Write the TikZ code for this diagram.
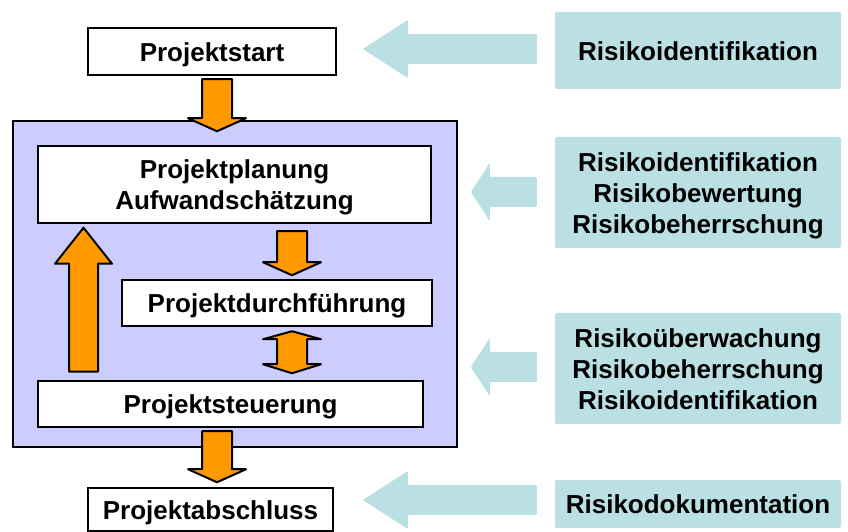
\documentclass[tikz,border=0pt]{standalone}
\usepackage{fontspec}
\setmainfont{Liberation Sans}
\usepackage{tikz}

\definecolor{phasefill}{HTML}{CCCCFF}
\definecolor{riskfill}{HTML}{BBE0E3}
\definecolor{flowfill}{HTML}{FF9900}

% text set a little below the box centre
\newcommand{\boxtext}[1]{\raisebox{-3.5pt}[\height][\depth]{\begin{tabular}{@{}c@{}}#1\end{tabular}}}
% fat arrows: start of shaft, shaft length (and head length)
\newcommand{\flowdown}[2]{%
    \draw[flowarrow] #1 ++(-15,0) -- ++(0,-#2) -- ++(-14,0) -- ++(29,-13) -- ++(29,13) -- ++(-14,0) -- ++(0,#2) -- cycle;}
\newcommand{\riskleft}[3]{%
    \fill[riskarrow] #1 ++(0,15) -- ++(-#2,0) -- ++(0,14) -- ++(-#3,-29) -- ++(#3,-29) -- ++(0,14) -- ++(#2,0) -- cycle;}

\begin{document}
\begin{tikzpicture}[x=1pt,y=1pt,
        font=\fontsize{26}{31}\selectfont\bfseries,
        every node/.style={inner sep=0pt},
        box/.style={draw,line width=2.5pt,fill=white},
        risk/.style={fill=riskfill,rounded corners=2pt,minimum width=286pt},
        flowarrow/.style={draw,line width=2pt,fill=flowfill,line join=round},
        riskarrow/.style={fill=riskfill,rounded corners=1pt}]

    \useasboundingbox (0,0) rectangle (848,532);

    \node[box,minimum width=248pt,minimum height=47pt] (start) at (212,480.5) {\boxtext{Projektstart}};
    \node[box,fill=phasefill,minimum width=444pt,minimum height=326pt] (phase) at (235,248) {};
    \node[box,minimum width=393pt,minimum height=77pt] (plan) at (234.5,347.5) {\boxtext{Projektplanung\\Aufwandschätzung}};
    \node[box,minimum width=310pt,minimum height=46pt] (exec) at (277,229) {\boxtext{Projektdurchführung}};
    \node[box,minimum width=385pt,minimum height=46pt] (ctrl) at (230.5,128) {\boxtext{Projektsteuerung}};
    \node[box,minimum width=245pt,minimum height=43pt] (close) at (210.5,22.5) {\boxtext{Projektabschluss}};

    \node[risk,minimum height=77pt] (ident) at (698,481.5) {\boxtext{Risikoidentifikation}};
    \node[risk,minimum height=111pt] (assess) at (698,339.5) {\boxtext{Risikoidentifikation\\Risikobewertung\\Risikobeherrschung}};
    \node[risk,minimum height=111pt] (monitor) at (698,163.5) {\boxtext{Risikoüberwachung\\Risikobeherrschung\\Risikoidentifikation}};
    \node[risk,minimum height=48pt] (docu) at (698,28) {\boxtext{Risikodokumentation}};

    \flowdown{([xshift=5pt,yshift=-3pt]start.south)}{39}
    \flowdown{([xshift=57.5pt,yshift=-7pt]plan.south)}{31}
    \flowdown{([xshift=-13.5pt,yshift=-3pt]ctrl.south)}{38}
    \draw[flowarrow] ([xshift=15pt,yshift=-4pt]exec.south) -- ++(29,-8) -- ++(-14,0) -- ++(0,-25) -- ++(14,0)
        -- ++(-29,-9) -- ++(-29,9) -- ++(14,0) -- ++(0,25) -- ++(-14,0) -- cycle;
    \draw[flowarrow] ([xshift=-147pt,yshift=8pt]ctrl.north) ++(-14.5,0) -- ++(0,108) -- ++(-14,0) -- ++(28.5,36)
        -- ++(28.5,-36) -- ++(-14,0) -- ++(0,-108) -- cycle;

    \riskleft{([xshift=-18pt,yshift=1.5pt]ident.west)}{129}{45}
    \riskleft{([xshift=-18pt,yshift=0.5pt]assess.west)}{47}{19}
    \riskleft{([xshift=-18pt,yshift=1.5pt]monitor.west)}{47}{19}
    \riskleft{([xshift=-18pt,yshift=4pt]docu.west)}{129}{45}
\end{tikzpicture}
\end{document}
